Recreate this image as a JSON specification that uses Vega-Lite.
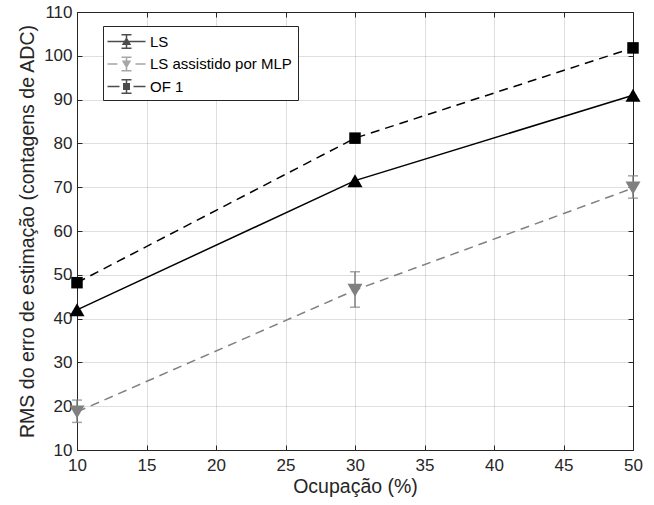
{
  "$schema": "https://vega.github.io/schema/vega-lite/v6.json",
  "width": 556,
  "height": 438,
  "autosize": {"type": "none"},
  "padding": {"left": 77, "top": 12, "right": 21, "bottom": 55},
  "background": "white",
  "config": {
    "font": "Liberation Sans",
    "view": {"stroke": null},
    "axis": {
      "domainColor": "#262626",
      "domainWidth": 1,
      "tickColor": "#262626",
      "tickSize": -5,
      "tickWidth": 1,
      "labelColor": "#262626",
      "titleColor": "#262626",
      "labelFont": "Liberation Sans",
      "titleFont": "Liberation Sans",
      "labelFontSize": 17,
      "titleFontSize": 19.5,
      "titleFontWeight": "normal",
      "gridColor": "#262626",
      "gridOpacity": 0.15,
      "gridWidth": 1,
      "labelFlush": false,
      "labelOverlap": false
    }
  },
  "data": {
    "values": [
      {"series": "LS", "x": 10, "y": 42},
      {"series": "LS", "x": 30, "y": 71.5},
      {"series": "LS", "x": 50, "y": 91},
      {"series": "LS assistido por MLP", "x": 10, "y": 18.7, "lo": 16.3, "hi": 21.4},
      {"series": "LS assistido por MLP", "x": 30, "y": 46.5, "lo": 42.6, "hi": 50.7},
      {"series": "LS assistido por MLP", "x": 50, "y": 69.8, "lo": 67.5, "hi": 72.6},
      {"series": "OF 1", "x": 10, "y": 48.2, "lo": 47.2, "hi": 49.2},
      {"series": "OF 1", "x": 30, "y": 81.2, "lo": 80.2, "hi": 82.2},
      {"series": "OF 1", "x": 50, "y": 101.8, "lo": 100.8, "hi": 102.8}
    ]
  },
  "layer": [
    {
      "transform": [{"filter": "false"}],
      "mark": {"type": "point", "filled": true, "opacity": 1, "size": 400},
      "encoding": {
        "x": {
          "field": "x", "type": "quantitative",
          "axis": {"orient": "top", "labels": false, "title": null, "grid": false, "values": [10, 15, 20, 25, 30, 35, 40, 45, 50]}
        },
        "y": {
          "field": "y", "type": "quantitative",
          "axis": {"orient": "right", "labels": false, "title": null, "grid": false, "values": [10, 20, 30, 40, 50, 60, 70, 80, 90, 100, 110]}
        },
        "color": {
          "field": "series", "type": "nominal",
          "legend": {
            "title": null, "orient": "none", "legendX": 26, "legendY": 14,
            "strokeColor": "#262626", "fillColor": "white",
            "padding": 5.5, "rowPadding": 4.5, "symbolSize": 400, "symbolOffset": 8, "labelOffset": 13.5,
            "labelFontSize": 15, "labelFont": "Liberation Sans", "labelColor": "#000000",
            "symbolStrokeWidth": 0, "symbolOpacity": 1
          }
        },
        "shape": {
          "field": "series", "type": "nominal",
          "scale": {"domain": ["LS", "LS assistido por MLP", "OF 1"], "range": [
            "M-1.9,-0.075H1.9V0.075H-1.9Z M-0.075,-0.75H0.075V0.75H-0.075Z M-0.5,-0.75H0.5V-0.6H-0.5Z M-0.5,0.6H0.5V0.75H-0.5Z M0,-0.45L0.47,0.35L-0.47,0.35Z",
            "M-1.9,-0.075H-0.9V0.075H-1.9Z M0.9,-0.075H1.9V0.075H0.9Z M-0.075,-0.75H0.075V0.75H-0.075Z M-0.5,-0.75H0.5V-0.6H-0.5Z M-0.5,0.6H0.5V0.75H-0.5Z M0,0.45L-0.47,-0.35L0.47,-0.35Z",
            "M-1.9,-0.075H-0.7V0.075H-1.9Z M0.7,-0.075H1.9V0.075H0.7Z M-0.075,-0.75H0.075V0.75H-0.075Z M-0.5,-0.75H0.5V-0.6H-0.5Z M-0.5,0.6H0.5V0.75H-0.5Z M-0.35,-0.35H0.35V0.35H-0.35Z"
          ]},
          "legend": {
            "title": null, "orient": "none", "legendX": 26, "legendY": 14,
            "strokeColor": "#262626", "fillColor": "white",
            "padding": 5.5, "rowPadding": 4.5, "symbolSize": 400, "symbolOffset": 8, "labelOffset": 13.5,
            "labelFontSize": 15, "labelFont": "Liberation Sans", "labelColor": "#000000",
            "symbolStrokeWidth": 0, "symbolOpacity": 1
          }
        }
      }
    },
    {
      "transform": [{"filter": "datum.series === 'LS'"}],
      "mark": {"type": "line", "strokeWidth": 1.5},
      "encoding": {
        "x": {
          "field": "x", "type": "quantitative",
          "scale": {"domain": [10, 50], "nice": false, "zero": false},
          "axis": {"title": "Ocupação (%)", "values": [10, 15, 20, 25, 30, 35, 40, 45, 50], "grid": true, "labelPadding": 12, "titlePadding": 4}
        },
        "y": {
          "field": "y", "type": "quantitative",
          "scale": {"domain": [10, 110], "nice": false, "zero": false},
          "axis": {"title": "RMS do erro de estimação (contagens de ADC)", "values": [10, 20, 30, 40, 50, 60, 70, 80, 90, 100, 110], "grid": true, "labelPadding": 10, "titlePadding": 6}
        },
        "color": {
          "field": "series", "type": "nominal",
          "scale": {"domain": ["LS", "LS assistido por MLP", "OF 1"], "range": ["#000000", "#808080", "#000000"]}
        }
      }
    },
    {
      "transform": [{"filter": "datum.series !== 'LS'"}],
      "mark": {"type": "line", "strokeWidth": 1.5, "strokeDash": [9, 6]},
      "encoding": {
        "x": {"field": "x", "type": "quantitative", "axis": null},
        "y": {"field": "y", "type": "quantitative", "axis": null},
        "color": {"field": "series", "type": "nominal"}
      }
    },
    {
      "transform": [{"filter": "isValid(datum.lo)"}],
      "mark": {"type": "rule", "strokeWidth": 1.5},
      "encoding": {
        "x": {"field": "x", "type": "quantitative", "axis": null},
        "y": {"field": "lo", "type": "quantitative", "axis": null},
        "y2": {"field": "hi"},
        "color": {"field": "series", "type": "nominal"}
      }
    },
    {
      "transform": [{"filter": "isValid(datum.lo)"}],
      "mark": {"type": "tick", "orient": "horizontal", "size": 10, "thickness": 1.5},
      "encoding": {
        "x": {"field": "x", "type": "quantitative", "axis": null},
        "y": {"field": "lo", "type": "quantitative", "axis": null},
        "color": {"field": "series", "type": "nominal"}
      }
    },
    {
      "transform": [{"filter": "isValid(datum.hi)"}],
      "mark": {"type": "tick", "orient": "horizontal", "size": 10, "thickness": 1.5},
      "encoding": {
        "x": {"field": "x", "type": "quantitative", "axis": null},
        "y": {"field": "hi", "type": "quantitative", "axis": null},
        "color": {"field": "series", "type": "nominal"}
      }
    },
    {
      "transform": [{"filter": "datum.series === 'LS'"}],
      "mark": {"type": "point", "filled": true, "opacity": 1, "size": 225, "shape": "triangle-up"},
      "encoding": {
        "x": {"field": "x", "type": "quantitative", "axis": null},
        "y": {"field": "y", "type": "quantitative", "axis": null},
        "color": {"field": "series", "type": "nominal"}
      }
    },
    {
      "transform": [{"filter": "datum.series === 'LS assistido por MLP'"}],
      "mark": {"type": "point", "filled": true, "opacity": 1, "size": 225, "shape": "triangle-down"},
      "encoding": {
        "x": {"field": "x", "type": "quantitative", "axis": null},
        "y": {"field": "y", "type": "quantitative", "axis": null},
        "color": {"field": "series", "type": "nominal"}
      }
    },
    {
      "transform": [{"filter": "datum.series === 'OF 1'"}],
      "mark": {"type": "point", "filled": true, "opacity": 1, "size": 132, "shape": "square"},
      "encoding": {
        "x": {"field": "x", "type": "quantitative", "axis": null},
        "y": {"field": "y", "type": "quantitative", "axis": null},
        "color": {"field": "series", "type": "nominal"}
      }
    }
  ],
  "resolve": {"axis": {"x": "independent", "y": "independent"}}
}
